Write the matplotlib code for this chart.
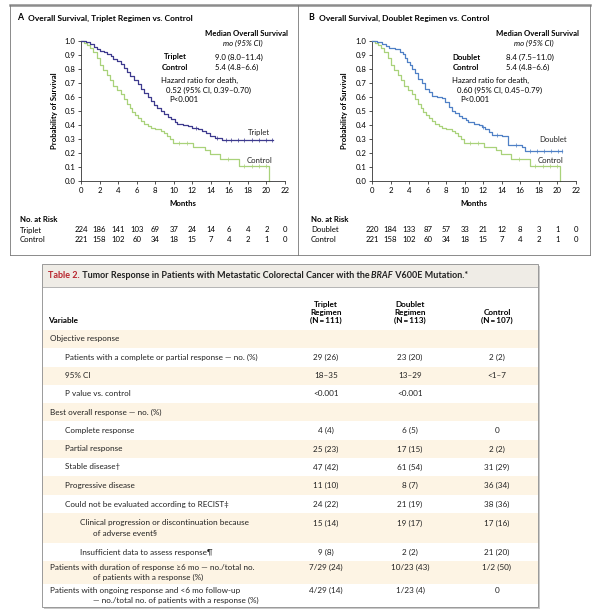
import matplotlib
matplotlib.use('Agg')
import matplotlib.pyplot as plt
import matplotlib.transforms as mtransforms
from matplotlib.patches import Rectangle
import numpy as np

plt.rcParams['font.family'] = ['Lato', 'DejaVu Sans']

# ---- survival curves (months, probability) ----
triplet_t = [0, 0.5, 1.0, 1.4, 1.7, 2.1, 2.45, 2.8, 3.2, 3.5, 3.9, 4.3, 4.6, 5.0, 5.3, 5.7,
             6.1, 6.5, 6.8, 7.2, 7.5, 7.9, 8.2, 8.6, 9.0, 9.4, 9.7, 10.1, 10.4, 11.0, 11.5,
             12.0, 12.6, 13.0, 13.5, 13.9, 14.4, 15.2, 20.7]
triplet_s = [1.0, 0.99, 0.976, 0.96, 0.94, 0.93, 0.92, 0.905, 0.89, 0.875, 0.86, 0.835, 0.81,
             0.78, 0.75, 0.72, 0.69, 0.66, 0.63, 0.60, 0.57, 0.545, 0.52, 0.50, 0.48, 0.46,
             0.44, 0.425, 0.41, 0.40, 0.39, 0.38, 0.37, 0.36, 0.345, 0.32, 0.31, 0.29, 0.29]

doublet_t = [0, 0.5, 1.1, 1.5, 1.8, 2.5, 3.0, 3.3, 3.6, 3.8, 4.1, 4.3, 4.6, 5.0, 5.4, 5.75,
             6.1, 6.5, 7.0, 7.5, 7.9, 8.3, 8.6, 9.0, 9.4, 9.7, 10.1, 10.4, 11.0, 11.5, 11.9,
             12.2, 12.6, 12.9, 14.0, 14.7, 16.2, 16.5, 20.5]
doublet_s = [1.0, 0.99, 0.98, 0.965, 0.95, 0.94, 0.925, 0.91, 0.88, 0.85, 0.83, 0.80, 0.77,
             0.73, 0.70, 0.66, 0.635, 0.61, 0.60, 0.59, 0.565, 0.53, 0.50, 0.485, 0.465,
             0.45, 0.435, 0.42, 0.41, 0.40, 0.385, 0.37, 0.35, 0.33, 0.32, 0.26, 0.245,
             0.215, 0.215]

control_t = [0, 0.3, 0.6, 1.0, 1.3, 1.7, 2.1, 2.4, 2.8, 3.1, 3.5, 3.9, 4.3, 4.6, 5.0, 5.3,
             5.5, 5.8, 6.1, 6.5, 6.8, 7.2, 7.5, 8.0, 8.6, 9.0, 9.3, 9.6, 9.9, 12.1, 13.4,
             13.9, 15.0, 17.0, 20.3]
control_s = [1.0, 0.985, 0.97, 0.95, 0.92, 0.88, 0.83, 0.79, 0.76, 0.72, 0.68, 0.65, 0.62,
             0.585, 0.55, 0.52, 0.49, 0.47, 0.45, 0.43, 0.41, 0.395, 0.38, 0.37, 0.36, 0.34,
             0.32, 0.30, 0.275, 0.245, 0.22, 0.195, 0.16, 0.105, 0.0]

# censoring marks (months)
triplet_cens = [12.4, 14.7, 15.6, 16.2, 16.9, 17.6, 18.4, 19.2, 20.0, 20.6]
doublet_cens = [12.0, 13.5, 15.5, 17.0, 17.8, 18.5, 19.3, 20.1, 20.5]
control_cens = [10.6, 11.4, 15.8, 17.6, 18.4, 19.2, 19.9]

# ---- numbers at risk ----
risk_months = [0, 2, 4, 6, 8, 10, 12, 14, 16, 18, 20, 22]
risk_triplet = [224, 186, 141, 103, 69, 37, 24, 14, 6, 4, 2, 0]
risk_doublet = [220, 184, 133, 87, 57, 33, 21, 12, 8, 3, 1, 0]
risk_control = [221, 158, 102, 60, 34, 18, 15, 7, 4, 2, 1, 0]

# ---- table ----
row_labels = [
    'Objective response',
    'Patients with a complete or partial response \u2014 no. (%)',
    '95% CI',
    'P value vs. control',
    'Best overall response \u2014 no. (%)',
    'Complete response',
    'Partial response',
    'Stable disease\u2020',
    'Progressive disease',
    'Could not be evaluated according to RECIST\u2021',
    'Clinical progression or discontinuation because\nof adverse event\u00a7',
    'Insufficient data to assess response\u00b6',
    'Patients with duration of response \u22656 mo \u2014 no./total no.\nof patients with a response (%)',
    'Patients with ongoing response and <6 mo follow-up\n\u2014 no./total no. of patients with a response (%)',
]
row_levels = [0, 1, 1, 1, 0, 1, 1, 1, 1, 1, 2, 2, 0, 0]
triplet_vals = ['', '29 (26)', '18\u201335', '<0.001', '', '4 (4)', '25 (23)', '47 (42)',
                '11 (10)', '24 (22)', '15 (14)', '9 (8)', '7/29 (24)', '4/29 (14)']
doublet_vals = ['', '23 (20)', '13\u201329', '<0.001', '', '6 (5)', '17 (15)', '61 (54)',
                '8 (7)', '21 (19)', '19 (17)', '2 (2)', '10/23 (43)', '1/23 (4)']
control_vals = ['', '2 (2)', '<1\u20137', '', '', '0', '2 (2)', '31 (29)', '36 (34)',
                '38 (36)', '17 (16)', '21 (20)', '1/2 (50)', '0']
col_heads = ['Triplet\nRegimen\n(N\u2009=\u2009111)', 'Doublet\nRegimen\n(N\u2009=\u2009113)',
             'Control\n(N\u2009=\u2009107)']

TRIPLET = '#3d3a8e'
DOUBLET = '#4f80c6'
CONTROL = '#a9d27a'
FS = 5.6
TFS = 5.9

fig = plt.figure(figsize=(6, 6.12), dpi=100)

# background axes in pixel coordinates for frames, labels and the table
bg = fig.add_axes([0, 0, 1, 1], zorder=0)
bg.set_xlim(0, 600)
bg.set_ylim(612, 0)
bg.axis('off')

# figure frame for the two survival panels
bg.plot([10, 590], [4.5, 4.5], color='#8c8c8c', lw=1.8)
for x in (10, 298, 590):
    bg.plot([x, x], [5, 255], color='#777777', lw=0.6)
bg.plot([10, 590], [255, 255], color='#777777', lw=0.6)


def step_value(ts, ss, x):
    i = np.searchsorted(ts, x, side='right') - 1
    return np.asarray(ss)[i]


def km_panel(left, letter, title, arm, arm_t, arm_s, arm_cens, arm_color,
             median_arm, hr_lines, arm_label_y, risk_arm):
    ax = fig.add_axes([left / 600, 1 - 181 / 612, 204 / 600, 140 / 612], zorder=2)
    ax.patch.set_alpha(0)
    ax.step(arm_t, arm_s, where='post', color=arm_color, lw=0.9, clip_on=False, zorder=3)
    ax.step(control_t, control_s, where='post', color=CONTROL, lw=0.9, clip_on=False, zorder=2)
    ax.plot(arm_cens, step_value(arm_t, arm_s, arm_cens), ls='none', marker='|',
            ms=2.2, mew=0.5, color=arm_color)
    ax.plot(control_cens, step_value(control_t, control_s, control_cens), ls='none',
            marker='|', ms=2.2, mew=0.5, color=CONTROL)
    ax.set_xlim(0, 22)
    ax.set_ylim(0, 1.0)
    ax.set_xticks(risk_months)
    ax.set_yticks(np.round(np.arange(0, 1.01, 0.1), 1))
    ax.yaxis.set_major_formatter(matplotlib.ticker.FormatStrFormatter('%.1f'))
    ax.tick_params(labelsize=FS, length=2.5, width=0.6, pad=1.5, color='#333333')
    for s in ('top', 'right'):
        ax.spines[s].set_visible(False)
    for s in ('left', 'bottom'):
        ax.spines[s].set_linewidth(0.6)
        ax.spines[s].set_color('#333333')

    x0 = left - 71
    bg.text(x0 + 7, 18, letter, fontsize=6.3, fontweight='bold', va='center')
    bg.text(x0 + 18, 18, title, fontsize=6.0, fontweight='bold', va='center')
    bg.text(left - 27, 111, 'Probability of Survival', fontsize=FS, fontweight='bold',
            rotation=90, ha='center', va='center')
    bg.text(left + 102, 204, 'Months', fontsize=FS, fontweight='bold', ha='center',
            va='center')

    # legend block
    bg.text(left + 207, 33, 'Median Overall Survival', fontsize=FS, fontweight='bold',
            ha='right', va='center')
    bg.text(left + 162, 43, 'mo (95% CI)', fontsize=FS, style='italic', ha='center',
            va='center')
    bg.text(left + 94, 57, arm, fontsize=FS, fontweight='bold', ha='center', va='center')
    bg.text(left + 94, 67, 'Control', fontsize=FS, fontweight='bold', ha='center',
            va='center')
    bg.text(left + 134, 57, median_arm, fontsize=FS, va='center')
    bg.text(left + 134, 67, '5.4 (4.8\u20136.6)', fontsize=FS, va='center')
    bg.text(left + 80, 80, 'Hazard ratio for death,', fontsize=FS, va='center')
    bg.text(left + 85, 90, hr_lines[0], fontsize=FS, va='center')
    bg.text(left + 88, 100, hr_lines[1], fontsize=FS, va='center')

    ax.text(18.0, arm_label_y, arm, fontsize=FS, va='center', color='#222222')
    ax.text(17.9, 0.15, 'Control', fontsize=FS, va='center', color='#222222')

    # numbers at risk
    bg.text(x0 + 10, 220, 'No. at Risk', fontsize=FS, fontweight='bold', va='center')
    bg.text(x0 + 10, 230, arm, fontsize=FS, va='center')
    bg.text(x0 + 10, 240, 'Control', fontsize=FS, va='center')
    tr = mtransforms.blended_transform_factory(ax.transData, bg.transData)
    for m, a, c in zip(risk_months, risk_arm, risk_control):
        ax.text(m, 230, str(a), transform=tr, fontsize=FS, ha='center', va='center')
        ax.text(m, 240, str(c), transform=tr, fontsize=FS, ha='center', va='center')


km_panel(81, 'A', 'Overall Survival, Triplet Regimen vs. Control', 'Triplet',
         triplet_t, triplet_s, triplet_cens, TRIPLET, '9.0 (8.0\u201311.4)',
         ['0.52 (95% CI, 0.39\u20130.70)', 'P<0.001'], 0.345, risk_triplet)
km_panel(372, 'B', 'Overall Survival, Doublet Regimen vs. Control', 'Doublet',
         doublet_t, doublet_s, doublet_cens, DOUBLET, '8.4 (7.5\u201311.0)',
         ['0.60 (95% CI, 0.45\u20130.79)', 'P<0.001'], 0.30, risk_doublet)

# ---- table drawing ----
tl, tt, tw, th = 42, 264, 496, 343
bg.add_patch(Rectangle((tl + 2, tt + 2), tw, th, fc='#c9c9c9', ec='none', zorder=0))
bg.add_patch(Rectangle((tl, tt), tw, th, fc='white', ec='none', zorder=1))
bg.add_patch(Rectangle((tl, tt), tw, 23, fc='#efece6', ec='none', zorder=1))
bg.plot([tl, tl + tw], [tt + 23, tt + 23], color='#a8a8a8', lw=0.6, zorder=2)

# title with mixed styles
r = fig.canvas.get_renderer()
x = 48
for txt, col, sty in [('Table 2.', '#b8262e', 'normal'),
                      (' Tumor Response in Patients with Metastatic Colorectal Cancer with the', '#222222', 'normal'),
                      (' BRAF', '#222222', 'italic'),
                      (' V600E Mutation.*', '#222222', 'normal')]:
    t = bg.text(x, 276, txt, fontsize=6.5, fontweight='bold', color=col, style=sty,
                va='center', zorder=3)
    x += t.get_window_extent(renderer=r).width

col_x = [326, 410, 497]
for cx, head in zip(col_x, col_heads):
    bg.text(cx, 323, head, fontsize=TFS, fontweight='bold', ha='center', va='baseline',
            linespacing=1.2, zorder=3, ma='center')
bg.text(48, 323, 'Variable', fontsize=TFS, fontweight='bold', va='baseline', zorder=3)

row_tops = [330, 348, 367, 385, 403, 421, 440, 458, 476, 495, 513, 543, 561, 584, 607]
indent = [50, 65, 80]
hang = 93
for i, lab in enumerate(row_labels):
    y0, y1 = row_tops[i], row_tops[i + 1]
    if i % 2 == 0:
        bg.add_patch(Rectangle((tl, y0), tw, y1 - y0, fc='#fdf4e4', ec='none', zorder=1))
    lines = lab.split('\n')
    ytxt = (y0 + y1) / 2 - 5 * (len(lines) - 1)
    bg.text(indent[row_levels[i]], ytxt, lines[0], fontsize=TFS, va='center', zorder=3,
            color='#222222')
    if len(lines) > 1:
        bg.text(hang, ytxt + 10, lines[1], fontsize=TFS, va='center', zorder=3,
                color='#222222')
    for cx, v in zip(col_x, (triplet_vals[i], doublet_vals[i], control_vals[i])):
        if v:
            bg.text(cx, ytxt, v, fontsize=TFS, ha='center', va='center', zorder=3,
                    color='#222222')

bg.add_patch(Rectangle((tl, tt), tw, th, fc='none', ec='#9a9a9a', lw=0.7, zorder=4))

fig.savefig('out.png', dpi=100)
